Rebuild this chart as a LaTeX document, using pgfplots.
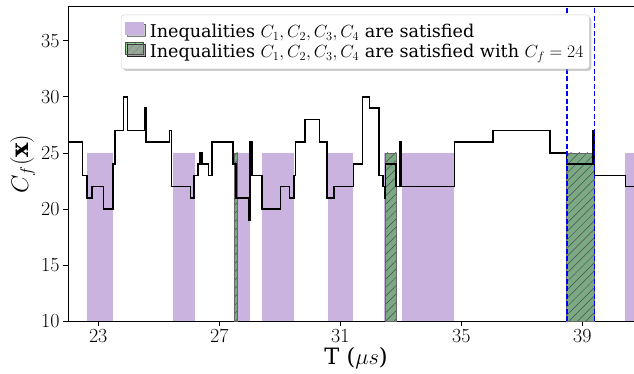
\RequirePackage{fix-cm}
\documentclass[border=0pt]{standalone}
\usepackage{fontspec}
\setmainfont{DejaVu Serif}
\usepackage{pgfplots}
\pgfplotsset{compat=1.18}
\usetikzlibrary{patterns.meta,shadows}
\definecolor{purpfill}{RGB}{202,179,222}
\definecolor{tabgreen}{RGB}{44,160,44}
\definecolor{leggreen}{RGB}{150,208,150}
\begin{document}
\begin{tikzpicture}
\begin{axis}[
  scale only axis, width=567pt, height=314.3pt,
  xmin=22.0, xmax=40.74, ymin=10, ymax=38.05,
  xtick={23,27,31,35,39}, ytick={10,15,20,25,30,35},
  tick align=outside, tick pos=left, major tick length=5pt,
  tick style={black, line width=0.8pt},
  axis line style={line width=0.8pt},
  ticklabel style={font=\fontsize{20}{24}\selectfont},
  xlabel={T ($\mu s$)}, ylabel={$C_f(\mathbf{x})$},
  every axis x label/.style={at={(rel axis cs:0.508,-0.119)}, anchor=center, font=\fontsize{22.5}{26}\selectfont},
  every axis y label/.style={at={(rel axis cs:-0.080,0.5)}, rotate=90, anchor=center, font=\fontsize{24}{28}\selectfont},
  legend style={at={(rel axis cs:0.0935,0.9745)}, anchor=north west, font=\fontsize{17.6}{19}\selectfont,
    draw=black!20, rounded corners=3pt, fill=white,
    drop shadow={shadow xshift=2pt, shadow yshift=-2pt, fill=black!40},
    inner xsep=4pt, inner ysep=7pt, row sep=0pt,
    nodes={inner xsep=2pt, inner ysep=1pt, text height=12.4pt, text depth=3pt}},
  legend cell align=left,
]
% purple regions (C1..C4 satisfied)
\addplot[fill=purpfill, draw=none, forget plot] coordinates {(22.64,25) (23.50,25)} \closedcycle;
\addplot[fill=purpfill, draw=none, forget plot] coordinates {(25.48,25) (26.20,25)} \closedcycle;
\addplot[fill=purpfill, draw=none, forget plot] coordinates {(27.50,25) (28.01,25)} \closedcycle;
\addplot[fill=purpfill, draw=none, forget plot] coordinates {(28.42,25) (29.48,25)} \closedcycle;
\addplot[fill=purpfill, draw=none, forget plot] coordinates {(30.58,25) (31.43,25)} \closedcycle;
\addplot[fill=purpfill, draw=none, forget plot] coordinates {(32.45,25) (32.86,25)} \closedcycle;
\addplot[fill=purpfill, draw=none, forget plot] coordinates {(33.03,25) (34.76,25)} \closedcycle;
\addplot[fill=purpfill, draw=none, forget plot] coordinates {(38.48,25) (39.38,25)} \closedcycle;
\addplot[fill=purpfill, draw=none, forget plot] coordinates {(40.42,25) (41.00,25)} \closedcycle;
% green regions (with Cf = 24)
\addplot[fill=tabgreen, fill opacity=0.5, draw=none, forget plot] coordinates {(27.50,25) (27.61,25)} \closedcycle;
\addplot[fill=tabgreen, fill opacity=0.5, draw=none, forget plot] coordinates {(32.49,25) (32.86,25)} \closedcycle;
\addplot[fill=tabgreen, fill opacity=0.5, draw=none, forget plot] coordinates {(38.48,25) (39.38,25)} \closedcycle;
\addplot[pattern={Lines[angle=45,distance=5.9pt,line width=0.5pt]}, pattern color=black!70, draw=black!60, line width=0.6pt, forget plot] coordinates {(27.50,25) (27.61,25)} \closedcycle;
\addplot[pattern={Lines[angle=45,distance=5.9pt,line width=0.5pt]}, pattern color=black!70, draw=black!60, line width=0.6pt, forget plot] coordinates {(32.49,25) (32.86,25)} \closedcycle;
\addplot[pattern={Lines[angle=45,distance=5.9pt,line width=0.5pt]}, pattern color=black!70, draw=black!60, line width=0.6pt, forget plot] coordinates {(38.48,25) (39.38,25)} \closedcycle;
% Cf(x) step line
\addplot[const plot, black, line width=1.6pt, forget plot] coordinates {
(22.00,26) (22.48,23) (22.62,21) (22.79,22) (23.17,20) (23.48,24) (23.55,27) (23.84,30) (23.97,27)
(24.54,29) (24.57,26) (25.35,27) (25.42,22) (26.05,21) (26.17,23) (26.29,24) (26.36,25) (26.42,24)
(26.64,23) (26.75,26) (27.46,24) (27.55,21) (27.96,19) (28.02,26) (28.09,23) (28.42,20) (29.02,22)
(29.32,21) (29.47,23) (29.52,26) (29.84,28) (30.31,26) (30.57,21) (30.80,22) (31.43,24) (31.74,30)
(31.97,29) (32.27,23) (32.42,22) (32.46,21) (32.50,24) (32.84,22) (32.97,26) (33.00,22) (34.77,26)
(36.04,27) (37.93,25) (38.48,24) (39.35,27) (39.40,23) (40.42,22) (41.00,22)};
% dashed markers
\addplot[blue, dash pattern=on 5pt off 2.5pt, line width=1.5pt, forget plot] coordinates {(38.50,10) (38.50,38.05)};
\addplot[blue, dash pattern=on 5pt off 2.5pt, line width=1.5pt, forget plot] coordinates {(39.40,10) (39.40,38.05)};
% legend
\addlegendimage{legend image code/.code={\fill[purpfill, sharp corners] (0pt,-1pt) rectangle (18pt,11pt);}}
\addlegendentry{\hspace*{4pt}Inequalities $C_1, C_2, C_3, C_4$ are satisfied}
\addlegendimage{legend image code/.code={\fill[leggreen, sharp corners] (0pt,-1pt) rectangle (18pt,11pt);
  \fill[sharp corners, pattern={Lines[angle=45,distance=5.5pt,line width=0.4pt]}, pattern color=black!60] (0pt,-1pt) rectangle (18pt,11pt);
  \draw[sharp corners, black!70, line width=0.6pt] (0pt,-1pt) rectangle (18pt,11pt);}}
\addlegendentry{\hspace*{4pt}Inequalities $C_1, C_2, C_3, C_4$ are satisfied with $C_f = 24$}
\coordinate (bbsw) at (rel axis cs:0,0);
\coordinate (bbne) at (rel axis cs:1,1);
\end{axis}
\pgfresetboundingbox
\path[use as bounding box] ([xshift=-68pt,yshift=-52pt]bbsw) rectangle ([xshift=-1pt,yshift=6.7pt]bbne);
\end{tikzpicture}
\end{document}
